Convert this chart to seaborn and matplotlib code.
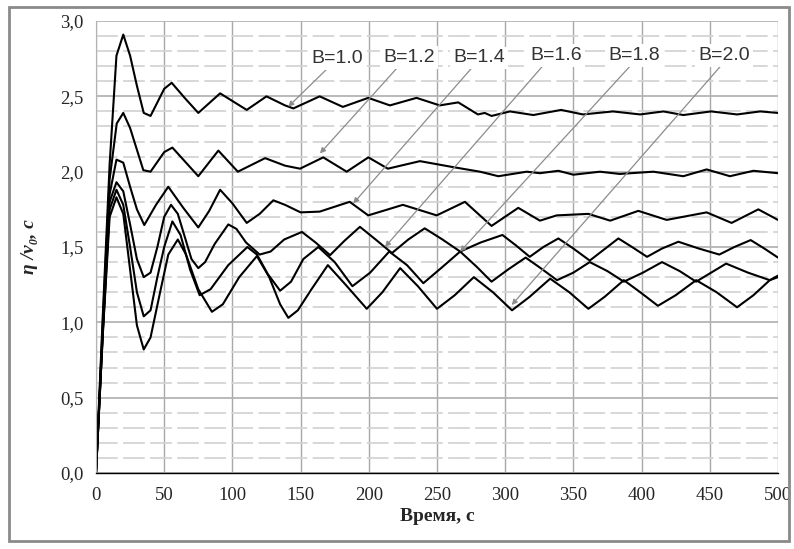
import numpy as np
import pandas as pd
import matplotlib.pyplot as plt
import seaborn as sns
from matplotlib.patches import Rectangle
from matplotlib.ticker import MultipleLocator, FuncFormatter

# ── data ───────────────────────────────────────────────
t_10 = [0, 5, 10, 15, 20, 25, 30, 35, 40, 50, 55.5, 65, 75, 91, 110.5, 125, 138.6, 144.7, 164, 181,
        199.6, 215.5, 235, 252, 265.6, 280, 285, 290, 303.5, 320.6, 341, 357, 379, 399, 416, 430.6,
        451, 470, 487, 500]
y_10 = [0, 1.05, 2.05, 2.77, 2.91, 2.77, 2.57, 2.39, 2.37, 2.55, 2.59, 2.49, 2.39, 2.52, 2.41, 2.50,
        2.44, 2.42, 2.50, 2.43, 2.49, 2.44, 2.49, 2.44, 2.46, 2.38, 2.39, 2.37, 2.40, 2.376, 2.41,
        2.38, 2.40, 2.38, 2.40, 2.376, 2.40, 2.38, 2.40, 2.39]

t_12 = [0, 5, 10, 15.2, 20, 25, 34.7, 40, 50, 56, 65, 75, 89.7, 104, 124, 138.6, 149.6, 166.6, 183.8,
        199.7, 214, 237.5, 262, 281.5, 295, 315.8, 325.5, 339, 350, 369.5, 384, 408.6, 430.6, 447.7,
        464.8, 482, 500]
y_12 = [0, 1.0, 1.95, 2.32, 2.39, 2.29, 2.01, 2.0, 2.13, 2.16, 2.07, 1.97, 2.14, 2.0, 2.09, 2.04, 2.02,
        2.095, 2.0, 2.095, 2.02, 2.07, 2.03, 2.0, 1.97, 2.0, 1.99, 2.006, 1.98, 2.0, 1.985, 2.0, 1.97,
        2.015, 1.97, 2.006, 1.99]

t_14 = [0, 5, 10, 15, 20, 25, 30, 35.4, 44, 53, 64, 75, 83, 91, 100, 110.5, 120, 130, 138.6, 150, 164,
        186, 199.6, 225, 249.8, 270.5, 290, 309.6, 325.5, 337.8, 361, 377, 397.6, 418.4, 447.7, 466,
        485.6, 500]
y_14 = [0, 0.95, 1.85, 2.08, 2.06, 1.9, 1.75, 1.646, 1.78, 1.90, 1.76, 1.63, 1.74, 1.88, 1.79, 1.66,
        1.72, 1.81, 1.78, 1.73, 1.735, 1.80, 1.71, 1.78, 1.71, 1.80, 1.64, 1.76, 1.675, 1.71, 1.72,
        1.675, 1.74, 1.68, 1.73, 1.66, 1.75, 1.68]

t_16 = [0, 5, 10, 15, 20, 25, 30, 35, 40, 45, 50, 55, 60, 65, 70, 75, 80, 87, 97, 103, 110, 120, 128,
        138, 151, 161, 171.6, 182, 193.5, 205, 217, 229, 241, 254, 267, 282, 298, 308, 318, 328, 339,
        350, 362, 372, 383, 393, 404, 415, 427, 442, 457, 468, 480, 490, 500]
y_16 = [0, 0.95, 1.8, 1.93, 1.87, 1.65, 1.42, 1.30, 1.33, 1.5, 1.7, 1.78, 1.72, 1.57, 1.42, 1.36, 1.40,
        1.52, 1.65, 1.62, 1.53, 1.45, 1.47, 1.55, 1.60, 1.53, 1.446, 1.54, 1.634, 1.55, 1.46, 1.55,
        1.624, 1.55, 1.47, 1.53, 1.58, 1.51, 1.435, 1.50, 1.557, 1.49, 1.41, 1.48, 1.557, 1.50, 1.435,
        1.49, 1.535, 1.49, 1.45, 1.50, 1.546, 1.49, 1.43]

t_18 = [0, 5, 10, 15, 20, 25, 30, 35, 40, 45, 50, 56, 62, 69, 76, 84, 97, 111, 118, 126, 135, 143, 152,
        163, 175, 188, 201, 215, 228, 240, 253, 267, 279, 290, 302, 315, 326, 338, 350, 362, 375, 387,
        401, 415, 428, 440, 451, 462, 478, 494, 500]
y_18 = [0, 0.93, 1.75, 1.88, 1.78, 1.5, 1.2, 1.04, 1.08, 1.3, 1.5, 1.67, 1.58, 1.35, 1.18, 1.22, 1.38,
        1.50, 1.45, 1.32, 1.21, 1.27, 1.42, 1.50, 1.40, 1.24, 1.33, 1.47, 1.38, 1.26, 1.36, 1.47, 1.37,
        1.27, 1.35, 1.43, 1.36, 1.28, 1.33, 1.40, 1.34, 1.27, 1.33, 1.40, 1.34, 1.27, 1.33, 1.39, 1.33,
        1.28, 1.30]

t_20 = [0, 5, 10, 15, 20, 25, 30, 35, 40, 47, 53, 60, 66, 75, 85, 93, 105, 118, 127, 135, 141, 148,
        158, 170, 183, 198.5, 210, 223, 236, 250, 263, 277, 291, 305, 318, 333, 347, 361, 373, 387,
        399, 412, 425, 440, 455, 470, 482, 494, 500]
y_20 = [0, 0.92, 1.7, 1.83, 1.72, 1.35, 0.98, 0.82, 0.90, 1.2, 1.45, 1.55, 1.45, 1.22, 1.07, 1.12,
        1.30, 1.44, 1.30, 1.12, 1.03, 1.08, 1.22, 1.38, 1.25, 1.09, 1.20, 1.36, 1.24, 1.09, 1.18, 1.30,
        1.20, 1.08, 1.17, 1.29, 1.20, 1.09, 1.17, 1.28, 1.20, 1.11, 1.18, 1.28, 1.20, 1.10, 1.18, 1.28,
        1.31]

labels = ['B=1.0', 'B=1.2', 'B=1.4', 'B=1.6', 'B=1.8', 'B=2.0']
# text centre and arrow tail / tip, in data units
lab_x = [176.5, 229.5, 280.8, 337.2, 394.4, 460.4]
lab_y = [2.75, 2.76, 2.755, 2.77, 2.77, 2.77]
tail_x = [169.0, 220.5, 276.2, 329.2, 391.1, 457.5]
tail_y = [2.679, 2.686, 2.696, 2.719, 2.696, 2.696]
tip_x = [140.9, 164.2, 188.6, 211.9, 266.9, 304.8]
tip_y = [2.431, 2.121, 1.789, 1.500, 1.469, 1.115]

series = [(t_10, y_10), (t_12, y_12), (t_14, y_14), (t_16, y_16), (t_18, y_18), (t_20, y_20)]
df = pd.concat([pd.DataFrame({'t': t, 'y': y, 'B': lab}) for (t, y), lab in zip(series, labels)],
               ignore_index=True)

sns.set_style('white')
plt.rcParams['font.family'] = ['Liberation Serif', 'DejaVu Serif']

fig = plt.figure(figsize=(7.94, 5.49), dpi=100)
ax = fig.add_axes([0.1209, 0.1384, 0.8589, 0.8233])

# grid
ax.yaxis.set_minor_locator(MultipleLocator(0.1))
ax.xaxis.set_minor_locator(MultipleLocator(10))
ax.grid(which='minor', axis='y', color='#d4d4d4', lw=1.3, dashes=(12, 3))
ax.grid(which='major', axis='y', color='#b4b4b4', lw=1.3)
ax.grid(which='major', axis='x', color='#a8a8a8', lw=1.0)
ax.set_axisbelow(True)

sns.lineplot(data=df, x='t', y='y', hue='B', palette=['black'] * 6, estimator=None, sort=False,
             lw=1.5, legend=False, ax=ax)

for i in range(6):
    ax.annotate('', xy=(tip_x[i], tip_y[i]), xytext=(tail_x[i], tail_y[i]),
                arrowprops=dict(arrowstyle='-|>', color='#8c8c8c', lw=0.9,
                                mutation_scale=8, shrinkA=0, shrinkB=0))
    ax.text(lab_x[i], lab_y[i], labels[i], ha='center', va='center', fontsize=14,
            family=['Liberation Sans', 'DejaVu Sans'], color='#333333',
            bbox=dict(boxstyle='square,pad=0.15', fc='white', ec='none'))

ax.set_xlim(0, 500)
ax.set_ylim(0, 3.0)
ax.xaxis.set_major_locator(MultipleLocator(50))
ax.yaxis.set_major_locator(MultipleLocator(0.5))
ax.yaxis.set_major_formatter(FuncFormatter(lambda v, p: f'{v:.1f}'.replace('.', ',')))

for s in ['top', 'right']:
    ax.spines[s].set_visible(False)
ax.spines['left'].set_color('#b4b4b4')
ax.spines['bottom'].set_color('black')
ax.spines['bottom'].set_linewidth(1.0)
ax.tick_params(axis='x', which='major', direction='inout', length=8, width=1, color='black',
               labelsize=13.5, pad=6)
ax.tick_params(axis='x', which='minor', direction='in', length=4, width=1, color='black')
ax.tick_params(axis='y', which='major', direction='out', length=5, width=1, color='#b4b4b4',
               labelsize=13.5, pad=4)
ax.tick_params(axis='y', which='minor', length=0)

ax.set_xlabel('Время, с', fontsize=14, fontweight='bold', labelpad=3)
ax.set_ylabel('η /v₀, c', fontsize=14, fontweight='bold', fontstyle='italic', labelpad=6)
ax.yaxis.set_label_coords(-0.085, 0.5)

# outer frame of the picture
fig.patches.append(Rectangle((0.011, 0.014), 0.983, 0.973, transform=fig.transFigure,
                             fill=False, ec='#8a8a8a', lw=2))

fig.savefig('out.png', dpi=100)
